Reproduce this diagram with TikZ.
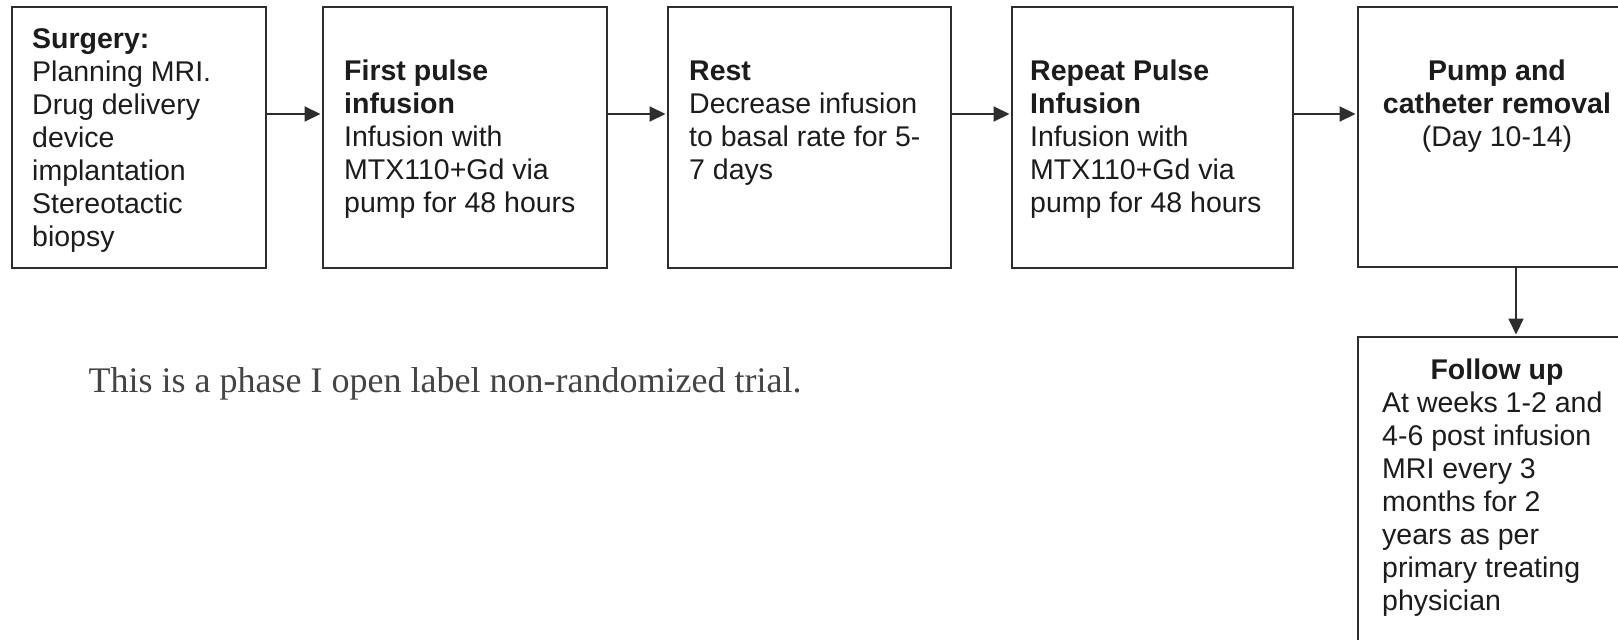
\documentclass[tikz,border=0pt]{standalone}
\usepackage{fontspec}
\setmainfont{Liberation Sans}
\newfontfamily\captionserif{Liberation Serif}
\usetikzlibrary{arrows.meta}

\definecolor{inkline}{HTML}{2E2E2E}
\definecolor{inktext}{HTML}{1C1C1C}
\definecolor{inkcaption}{HTML}{444444}

\tikzset{
  stagebox/.style={draw=inkline, line width=2pt, inner sep=0pt, fill=none},
  stagetext/.style={anchor=north west, inner sep=0pt, align=left, text=inktext,
    font=\fontsize{28.5}{33}\selectfont},
  stagecentred/.style={anchor=north, inner sep=0pt, align=center, text=inktext,
    font=\fontsize{28.5}{33}\selectfont},
  flowarrow/.style={draw=inkline, line width=2pt,
    -{Triangle[length=16pt,width=15pt]}, shorten >=1.5pt},
}

\begin{document}
\begin{tikzpicture}[x=1pt, y=-1pt]
\useasboundingbox (0,0) rectangle (1618,640);
\clip (0,0) rectangle (1618,640);
\fill[white] (0,0) rectangle (1618,640);

% stage boxes along the top row
\node[stagebox, minimum width=254pt, minimum height=261pt] (b1) at (139,137.5) {};
\node[stagebox, minimum width=284pt, minimum height=261pt] (b2) at (465,137.5) {};
\node[stagebox, minimum width=283pt, minimum height=261pt] (b3) at (809.5,137.5) {};
\node[stagebox, minimum width=281pt, minimum height=261pt] (b4) at (1152.5,137.5) {};
\node[stagebox, minimum width=282pt, minimum height=260pt] (b5) at (1499,137) {};
% follow-up box below the last stage
\node[stagebox, minimum width=282pt, minimum height=353pt] (b6) at (1499,513.5) {};

% box texts
\node[stagetext] (t1) at (32,24.9) {\strut\textbf{Surgery:}\\Planning MRI.\\Drug delivery\\device\\implantation\\Stereotactic\\biopsy};
\node[stagetext] (t2) at (344,56.9) {\strut\textbf{First pulse}\\\textbf{infusion}\\Infusion with\\MTX110+Gd via\\pump for 48 hours};
\node[stagetext] (t3) at (689,56.9) {\strut\textbf{Rest}\\Decrease infusion\\to basal rate for 5-\\7 days};
\node[stagetext] (t4) at (1030,56.9) {\strut\textbf{Repeat Pulse}\\\textbf{Infusion}\\Infusion with\\MTX110+Gd via\\pump for 48 hours};
\node[stagecentred] (t5) at (1497,56.9) {\strut\textbf{Pump and}\\\textbf{catheter removal}\\(Day 10-14)};
\node[stagecentred] (t6h) at (1497,355.9) {\strut\textbf{Follow up}};
\node[stagetext] (t6) at (1382,388.9) {\strut At weeks 1-2 and\\4-6 post infusion\\MRI every 3\\months for 2\\years as per\\primary treating\\physician};

% connectors
\coordinate (rowy) at (0,114);
\draw[flowarrow] (b1.east |- rowy) -- (b2.west |- rowy);
\draw[flowarrow] (b2.east |- rowy) -- (b3.west |- rowy);
\draw[flowarrow] (b3.east |- rowy) -- (b4.west |- rowy);
\draw[flowarrow] (b4.east |- rowy) -- (b5.west |- rowy);
\coordinate (downx) at (1516,0);
\draw[flowarrow] (b5.south -| downx) -- (b6.north -| downx);

% caption under the flow
\node[anchor=base west, inner sep=0pt, text=inkcaption,
  font=\captionserif\fontsize{36}{40}\selectfont] (cap) at (88.5,392)
  {This is a phase I open label non-randomized trial.};
\end{tikzpicture}
\end{document}
